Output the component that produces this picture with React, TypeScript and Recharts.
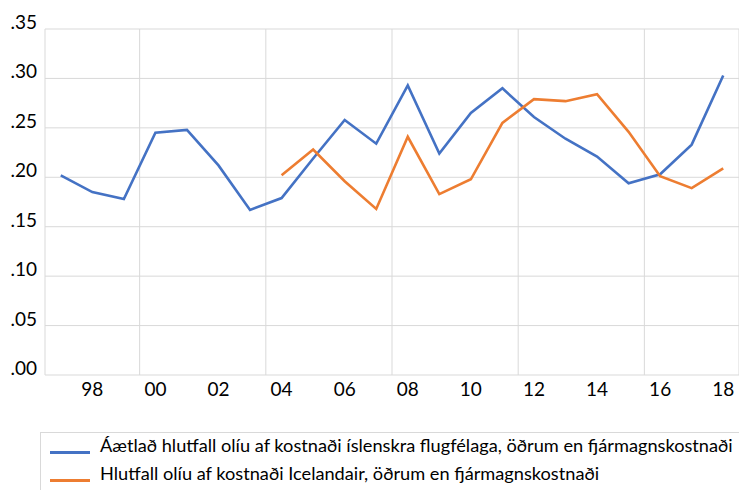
import React from 'react';
import { LineChart, Line, XAxis, YAxis, CartesianGrid } from 'recharts';

const years = [1997, 1998, 1999, 2000, 2001, 2002, 2003, 2004, 2005, 2006, 2007, 2008, 2009, 2010, 2011, 2012, 2013, 2014, 2015, 2016, 2017, 2018];
const islenskra = [0.202, 0.185, 0.178, 0.245, 0.248, 0.212, 0.167, 0.179, 0.219, 0.258, 0.234, 0.293, 0.224, 0.265, 0.290, 0.261, 0.239, 0.221, 0.194, 0.203, 0.233, 0.303];
const icelandair = [null, null, null, null, null, null, null, 0.202, 0.228, 0.196, 0.168, 0.241, 0.183, 0.198, 0.255, 0.279, 0.277, 0.284, 0.246, 0.201, 0.189, 0.209];
const xTicks = [1998, 2000, 2002, 2004, 2006, 2008, 2010, 2012, 2014, 2016, 2018];
const yTicks = [0, 0.05, 0.1, 0.15, 0.2, 0.25, 0.3, 0.35];
const gridYears = [1999.5, 2003.5, 2007.5, 2011.5, 2015.5];
const gridValues = [0.05, 0.1, 0.15, 0.2, 0.25, 0.3];
const seriesNames = [
  'Áætlað hlutfall olíu af kostnaði íslenskra flugfélaga, öðrum en fjármagnskostnaði',
  'Hlutfall olíu af kostnaði Icelandair, öðrum en fjármagnskostnaði',
];
const colors = ['#4472C4', '#ED7D31'];

const data = years.map((y, i) => ({ year: y, a: islenskra[i], b: icelandair[i] }));

const FONT = 'Lato, "Open Sans", sans-serif';

const YTick = (props: any) => {
  const { y, payload } = props;
  const label = Number(payload.value).toFixed(2).replace(/^0/, '');
  return (
    <text x={37} y={y} textAnchor="end" fontFamily={FONT} fontSize={19} fill="#000">
      {label}
    </text>
  );
};

const XTick = (props: any) => {
  const { x, y, payload } = props;
  const label = String(payload.value % 100).padStart(2, '0');
  return (
    <text x={x} y={y} dy={13} textAnchor="middle" fontFamily={FONT} fontSize={19} fill="#000">
      {label}
    </text>
  );
};

export default function App() {
  return (
    <div style={{ position: 'fixed', left: 0, top: 0, width: 739, height: 490, overflow: 'hidden', background: '#fff' }}>
      <LineChart width={739} height={490} data={data} margin={{ top: 29, right: 0, bottom: 75, left: 0 }}>
        <CartesianGrid stroke="#d9d9d9" xAxisId="grid" yAxisId="grid" />
        <XAxis
          dataKey="year"
          type="number"
          domain={[1996.5, 2018.5]}
          ticks={xTicks}
          interval={0}
          axisLine={false}
          tickLine={false}
          tick={<XTick />}
          height={40}
        />
        <XAxis xAxisId="grid" dataKey="year" type="number" domain={[1996.5, 2018.5]} ticks={gridYears} interval={0} hide />
        <YAxis
          type="number"
          domain={[0, 0.35]}
          ticks={yTicks}
          interval={0}
          axisLine={false}
          tickLine={false}
          tick={<YTick />}
          width={45}
        />
        <YAxis yAxisId="grid" dataKey="a" type="number" domain={[0, 0.35]} ticks={gridValues} interval={0} allowDataOverflow hide />
        <Line dataKey="a" stroke={colors[0]} strokeWidth={2.6} dot={false} isAnimationActive={false} connectNulls={false} />
        <Line dataKey="b" stroke={colors[1]} strokeWidth={2.6} dot={false} isAnimationActive={false} connectNulls={false} />
      </LineChart>
      <div
        style={{
          position: 'absolute',
          left: 40,
          top: 432,
          width: 720,
          height: 80,
          border: '1px solid #d9d9d9',
          boxSizing: 'border-box',
          fontFamily: FONT,
          fontSize: 18.2,
          color: '#000',
        }}
      >
        {seriesNames.map((n, i) => (
          <div key={i} style={{ position: 'absolute', left: 0, top: i === 0 ? -1 : 27, height: 26, display: 'flex', alignItems: 'center', whiteSpace: 'nowrap' }}>
            <span style={{ display: 'inline-block', width: 40, height: 3, background: colors[i], marginLeft: 9, marginRight: 10, marginTop: 14 }} />
            <span>{n}</span>
          </div>
        ))}
      </div>
    </div>
  );
}
